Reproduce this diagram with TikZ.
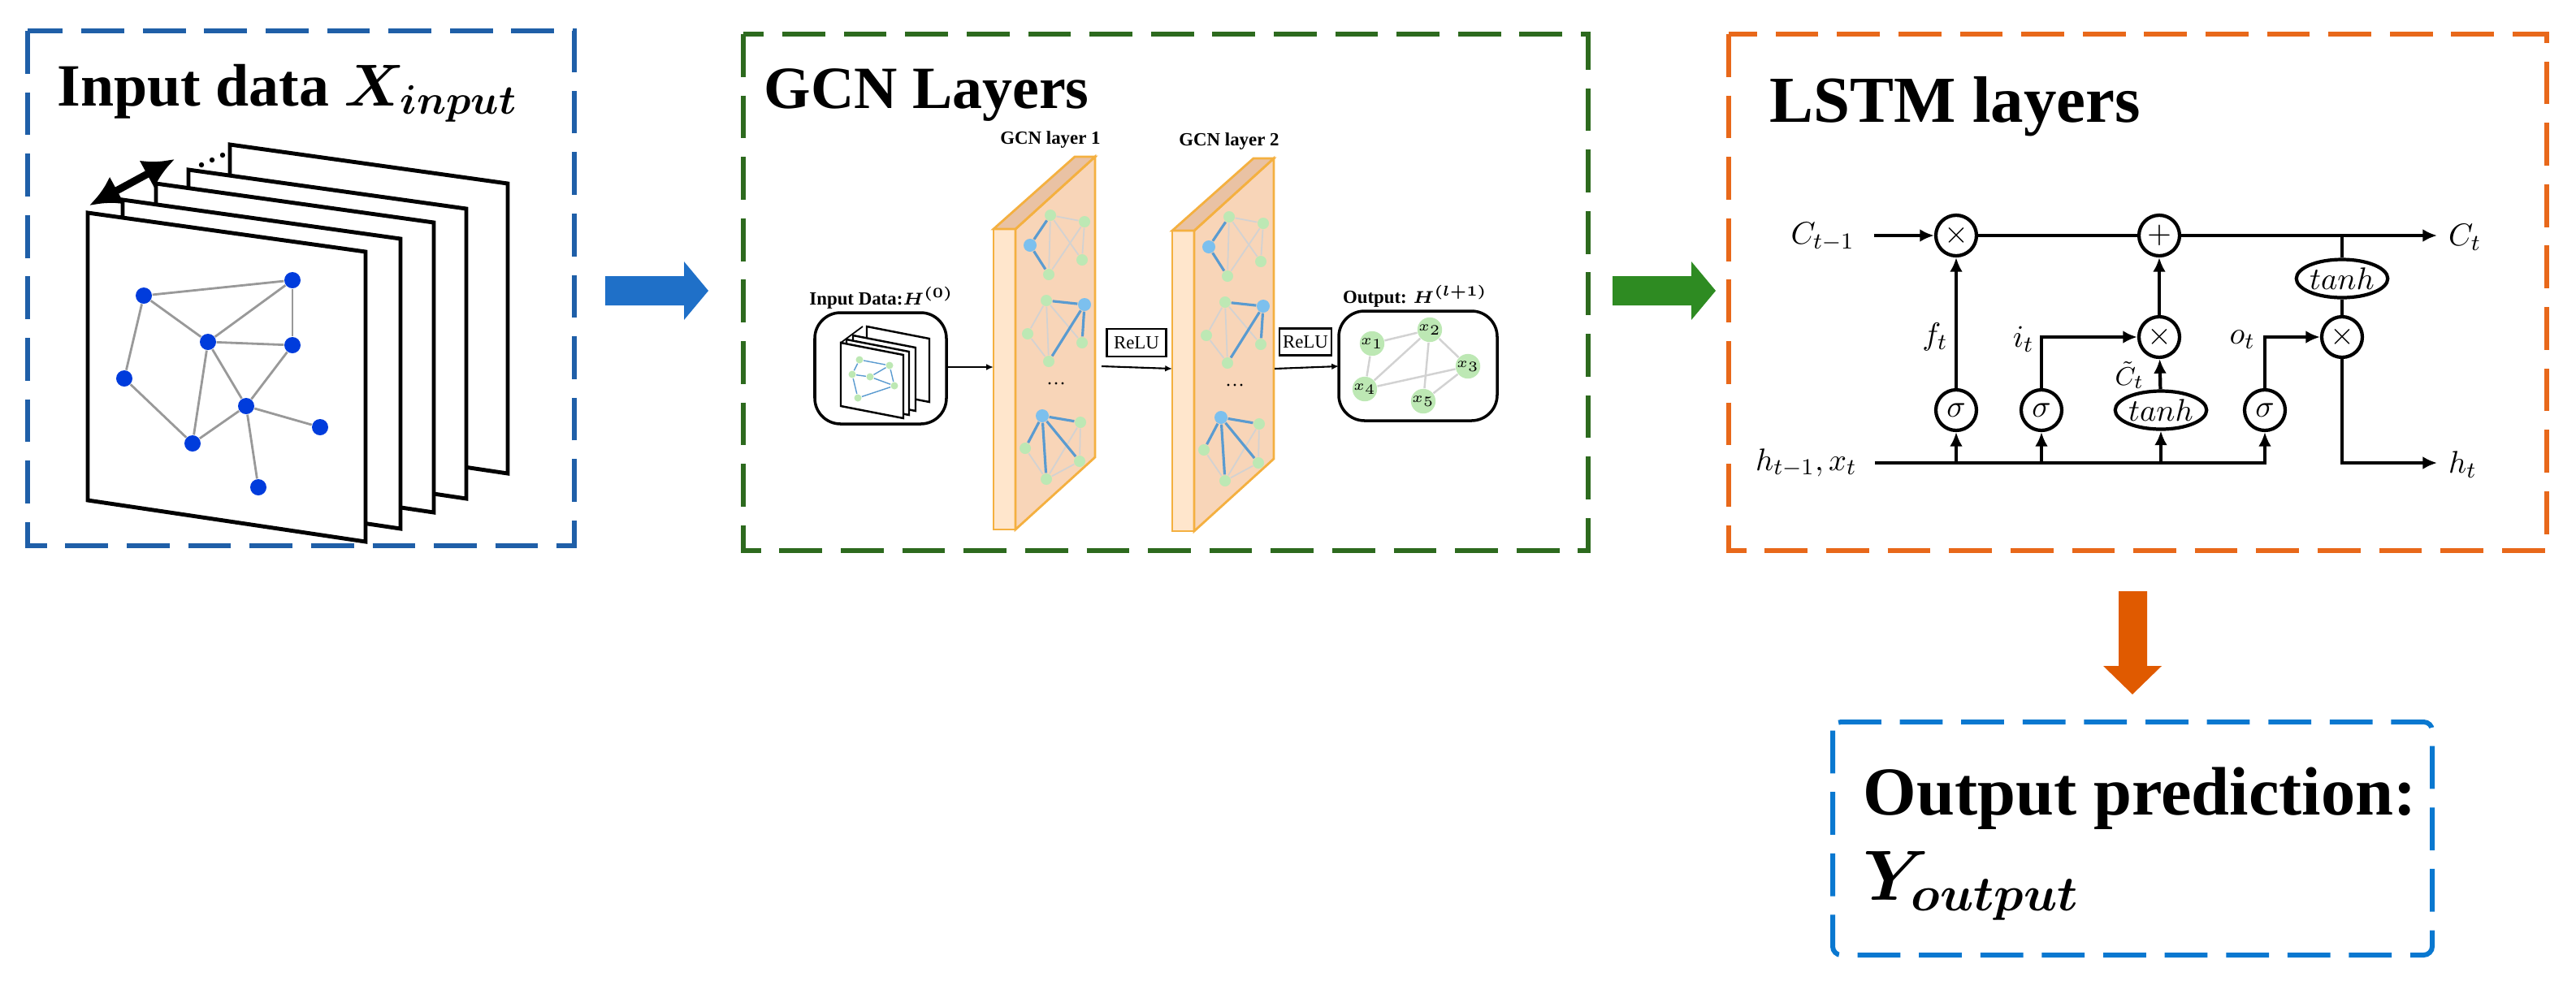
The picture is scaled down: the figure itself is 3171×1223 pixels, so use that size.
\documentclass[tikz,border=0pt]{standalone}
\usepackage{fontspec}
\setmainfont{Liberation Serif}
\usepackage{amsmath,bm}
\usetikzlibrary{arrows.meta,shapes.geometric}
\definecolor{bxblue}{HTML}{1F5FA8}
\definecolor{bxgreen}{HTML}{2D6A1E}
\definecolor{bxorange}{HTML}{E8681A}
\definecolor{bxblueb}{HTML}{0A78D0}
\definecolor{arblue}{HTML}{1F70C8}
\definecolor{argreen}{HTML}{2E8B22}
\definecolor{arorange}{HTML}{E05A00}
\definecolor{slfront}{HTML}{FFE6CC}
\definecolor{slside}{HTML}{F8D5B8}
\definecolor{sltop}{HTML}{E9C2A4}
\definecolor{sledge}{HTML}{F4B040}
\definecolor{gn}{HTML}{BDE8B4}
\definecolor{bn}{HTML}{7CC0EE}
\definecolor{ge}{HTML}{D2D2D2}
\definecolor{be}{HTML}{5A9BD0}
\definecolor{dn}{HTML}{003CDC}
\tikzset{
  dbox/.style={line width=1.7pt, dash pattern=on 15pt off 6.5pt},
  sheet/.style={draw=black, fill=white, line width=1.4pt, line join=miter},
  dnode/.style={circle, fill=dn, minimum size=20*0.01cm, inner sep=0pt},
  dedge/.style={draw=gray!80, line width=0.8pt},
  gnode/.style={circle, fill=gn, minimum size=14*0.01cm, inner sep=0pt},
  bnode/.style={circle, fill=bn, minimum size=16*0.01cm, inner sep=0pt},
  gedge/.style={draw=ge, line width=0.5pt},
  bedge/.style={draw=be, line width=0.9pt},
  onode/.style={circle, fill=gn, minimum size=24*0.01cm, inner sep=0pt, font=\fontsize{5.5}{6}\selectfont},
  op/.style={circle, draw, line width=1.2pt, minimum size=50*0.01cm, inner sep=0pt, font=\fontsize{11}{12}\selectfont},
  el/.style={ellipse, draw, line width=1.2pt, minimum width=100*0.01cm, minimum height=47*0.01cm, inner sep=0pt, font=\fontsize{11}{12}\selectfont},
  ln/.style={line width=1.2pt},
  ar/.style={line width=1.2pt, -{Latex[length=5pt,width=4.5pt]}},
  lbl/.style={font=\fontsize{11}{12}\selectfont, inner sep=1pt},
  small/.style={font=\bfseries\fontsize{6.5}{7}\selectfont, inner sep=0pt},
  sar/.style={line width=0.6pt, -{Latex[length=2.5pt,width=2.2pt]}},
}
\begin{document}
\begin{tikzpicture}[x=0.01cm,y=-0.01cm]
\useasboundingbox (0,0) rectangle (3171,1223);
% ---------------- boxes
\draw[dbox, bxblue] (34,38) rectangle (707,672);
\draw[dbox, bxgreen] (915,42) rectangle (1955,678);
\draw[dbox, bxorange] (2128,42) rectangle (3135,678);
\draw[dbox, bxblueb, rounded corners=3pt] (2256,889) rectangle (2994,1176);
% titles
\node[anchor=base west, inner sep=0pt, font=\bfseries\fontsize{21}{24}\selectfont] (t1) at (70,130) {Input data $\bm{X_{input}}$};
\node[anchor=base west, inner sep=0pt, font=\bfseries\fontsize{21}{24}\selectfont] (t2) at (940,133) {GCN Layers};
\node[anchor=base west, inner sep=0pt, font=\bfseries\fontsize{23}{26}\selectfont] (t3) at (2178,150) {LSTM layers};
\node[anchor=base west, inner sep=0pt, font=\bfseries\fontsize{24}{26}\selectfont] (t4) at (2293,1003) {Output prediction:};
\node[anchor=base west, inner sep=0pt, font=\bfseries\fontsize{24}{26}\selectfont] (t5) at (2293,1108) {$\bm{Y_{output}}$};
% ---------------- block arrows
\fill[arblue] (745,340) -- (842,340) -- (842,322) -- (872,358) -- (842,394) -- (842,376) -- (745,376) -- cycle;
\fill[argreen] (1985,340) -- (2082,340) -- (2082,322) -- (2112,358) -- (2082,394) -- (2082,376) -- (1985,376) -- cycle;
\fill[arorange] (2608,728) -- (2643,728) -- (2643,820) -- (2661,820) -- (2625,855) -- (2589,820) -- (2608,820) -- cycle;
% ---------------- input stack
\foreach \dx/\dy in {175/-84,124/-53,84/-36,43/-16,0/0}{
  \draw[sheet] (108+\dx,262+\dy) -- (450+\dx,310+\dy) -- (450+\dx,667+\dy) -- (108+\dx,616+\dy) -- cycle;
}
\draw[line width=2.6pt, {Latex[length=11pt,width=11pt]}-{Latex[length=11pt,width=11pt]}] (110,253) -- (215,196);
\foreach \px/\py in {248/203,261/197,274/191}{ \fill (\px,\py) circle (3.2); }
\node[dnode] (n1) at (177,364) {};
\node[dnode] (n2) at (360,345) {};
\node[dnode] (n3) at (256,421) {};
\node[dnode] (n4) at (360,425) {};
\node[dnode] (n5) at (153,466) {};
\node[dnode] (n6) at (303,500) {};
\node[dnode] (n7) at (394,526) {};
\node[dnode] (n8) at (237,546) {};
\node[dnode] (n9) at (318,600) {};
\foreach \a/\b in {n1/n2,n1/n3,n1/n5,n2/n3,n2/n4,n3/n4,n3/n8,n3/n6,n4/n6,n5/n8,n8/n6,n6/n7,n6/n9}{
  \draw[dedge] (\a) -- (\b);
}
% ---------------- GCN: input data box
\node[small] (idl) at (1085,367) {Input Data:$\bm{H^{(0)}}$};
\draw[line width=1pt, rounded corners=9pt] (1003,385) rectangle (1165,522);
\coordinate (idr) at (1165,452);
\foreach \dx/\dy in {32/-20,15/-9,7/-4,0/0}{
  \draw[draw=black, fill=white, line width=0.7pt] (1035+\dx,422+\dy) -- (1112+\dx,437+\dy) -- (1112+\dx,515+\dy) -- (1035+\dx,500+\dy) -- cycle;
}
\draw[line width=0.5pt] (1035,422) -- (1062,402);
\node[gnode, minimum size=9*0.01cm] (m1) at (1058,443) {};
\node[gnode, minimum size=9*0.01cm] (m2) at (1095,450) {};
\node[gnode, minimum size=9*0.01cm] (m3) at (1049,461) {};
\node[gnode, minimum size=9*0.01cm] (m4) at (1071,464) {};
\node[gnode, minimum size=9*0.01cm] (m5) at (1101,475) {};
\node[gnode, minimum size=9*0.01cm] (m6) at (1056,490) {};
\foreach \a/\b in {m1/m2,m1/m3,m3/m4,m4/m2,m4/m5,m2/m5,m6/m5,m3/m6}{ \draw[be, line width=0.4pt] (\a) -- (\b); }
% ---------------- GCN slabs
\foreach \k/\dx/\dy in {1/0/0,2/220/2}{
\begin{scope}[shift={(\dx,\dy)}]
  \node[small] (gl\k) at (1293,172) {GCN layer \k};
  \draw[sledge, fill=slfront, line width=0.8pt] (1223,282) rectangle (1250,652);
  \draw[sledge, fill=slside, line width=0.8pt] (1250,282) -- (1348,193) -- (1348,563) -- (1250,652) -- cycle;
  \draw[sledge, fill=sltop, line width=0.8pt] (1223,282) -- (1250,282) -- (1348,193) -- (1323,193) -- cycle;
  \coordinate (sf\k) at (1223,452);
  \coordinate (sb\k) at (1349,452);
  \node[gnode] (a\k) at (1293,265) {};
  \node[gnode] (b\k) at (1335,273) {};
  \node[bnode] (c\k) at (1268,302) {};
  \node[gnode] (d\k) at (1332,320) {};
  \node[gnode] (e\k) at (1291,338) {};
  \foreach \p/\q in {a/b,a/d,b/e,a/e,b/d}{ \draw[gedge] (\p\k) -- (\q\k); }
  \foreach \p/\q in {c/a,c/e}{ \draw[bedge] (\p\k) -- (\q\k); }
  \node[gnode] (f\k) at (1288,370) {};
  \node[bnode] (g\k) at (1335,375) {};
  \node[gnode] (h\k) at (1265,411) {};
  \node[gnode] (i\k) at (1332,422) {};
  \node[gnode] (j\k) at (1291,445) {};
  \foreach \p/\q in {f/h,h/j,f/j,f/i}{ \draw[gedge] (\p\k) -- (\q\k); }
  \foreach \p/\q in {g/f,g/i,g/j}{ \draw[bedge] (\p\k) -- (\q\k); }
  \foreach \px in {1292,1300,1308}{ \fill (\px,472) circle (1.6); }
  \node[bnode] (k\k) at (1283,512) {};
  \node[gnode] (l\k) at (1330,520) {};
  \node[gnode] (m\k) at (1262,552) {};
  \node[gnode] (n\k) at (1329,568) {};
  \node[gnode] (o\k) at (1288,590) {};
  \foreach \p/\q in {m/o,l/n,o/n,o/l}{ \draw[gedge] (\p\k) -- (\q\k); }
  \foreach \p/\q in {k/l,k/m,k/o,k/n}{ \draw[bedge] (\p\k) -- (\q\k); }
\end{scope}
}
\draw[sar] (idr) -- (sf1);
\node[draw, line width=0.8pt, minimum width=73*0.01cm, minimum height=34*0.01cm, inner sep=0pt, font=\fontsize{6.5}{7}\selectfont] (r1) at (1399,422) {ReLU};
\node[draw, line width=0.8pt, minimum width=64*0.01cm, minimum height=33*0.01cm, inner sep=0pt, font=\fontsize{6.5}{7}\selectfont] (r2) at (1607,421) {ReLU};
\coordinate (r1a) at (1356,451);
\draw[sar] (r1a) -- (sf2);
% output box
\node[small] (ol) at (1742,365) {Output: $\bm{H^{(l+1)}}$};
\draw[line width=1pt, rounded corners=9pt] (1648,383) rectangle (1843,518);
\coordinate (obl) at (1648,451);
\draw[sar] (sb2) -- (obl);
\node[onode] (x1) at (1689,423) {$x_1$};
\node[onode] (x2) at (1760,406) {$x_2$};
\node[onode] (x3) at (1807,451) {$x_3$};
\node[onode] (x4) at (1680,479) {$x_4$};
\node[onode] (x5) at (1752,494) {$x_5$};
\foreach \a/\b in {x1/x2,x1/x4,x2/x4,x2/x3,x2/x5,x4/x3,x3/x5}{ \draw[gedge, line width=0.7pt] (\a) -- (\b); }
% ---------------- LSTM
\node[op] (m1x) at (2408,290) {$\times$};
\node[op] (pl) at (2658,290) {$+$};
\node[op] (m2x) at (2658,415) {$\times$};
\node[op] (m3x) at (2883,415) {$\times$};
\node[el] (th2) at (2883,343) {$tanh$};
\node[op] (s1) at (2408,505) {$\sigma$};
\node[op] (s2) at (2513,505) {$\sigma$};
\node[el] (th1) at (2660,505) {$tanh$};
\node[op] (s3) at (2788,505) {$\sigma$};
\node[lbl, anchor=east] (lc) at (2287,292) {$C_{t-1}$};
\node[lbl, anchor=east] (lh) at (2290,570) {$h_{t-1},x_t$};
\node[lbl, anchor=west] (lct) at (3010,292) {$C_t$};
\node[lbl, anchor=west] (lht) at (3010,572) {$h_t$};
\node[lbl, anchor=east] (lf) at (2402,415) {$f_t$};
\node[lbl, anchor=east] (li) at (2508,418) {$i_t$};
\node[lbl, anchor=east] (lo) at (2780,418) {$o_t$};
\node[lbl, anchor=east, inner sep=0pt, font=\fontsize{9.5}{10}\selectfont] (lcc) at (2640,462) {$\tilde{C}_t$};
\coordinate (cs) at (2307,290);
\coordinate (ce) at (3000,290);
\coordinate (cj) at (2883,290);
\coordinate (hs) at (2308,570);
\coordinate (he) at (2790,570);
\coordinate (hend) at (3000,570);
\coordinate (b1) at (2408,570);
\coordinate (b2) at (2513,570);
\coordinate (b3) at (2660,570);
\coordinate (b4) at (2788,570);
\draw[ar] (cs) -- (m1x);
\draw[ln] (m1x) -- (pl);
\draw[ar] (pl) -- (ce);
\draw[ln] (cj) -- (th2);
\draw[ln] (th2) -- (m3x);
\draw[ar] (s1) -- (m1x);
\draw[ar] (s2.north) |- (m2x);
\draw[ar] (th1) -- (m2x);
\draw[ar] (m2x) -- (pl);
\draw[ar] (s3.north) |- (m3x);
\draw[ln] (hs) -- (he);
\draw[ar] (m3x) |- (hend);
\draw[ar] (b1) -- (s1);
\draw[ar] (b2) -- (s2);
\draw[ar] (b3) -- (th1);
\draw[ar] (b4) -- (s3);
\end{tikzpicture}
\end{document}
